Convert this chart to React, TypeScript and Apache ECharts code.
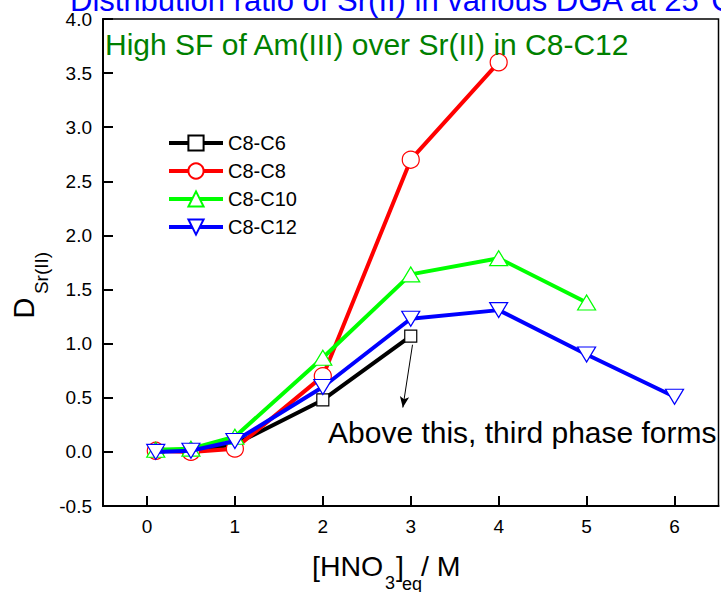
import React, { useEffect, useRef } from "react";
import * as echarts from "echarts";

const FONT = "'Liberation Sans', Arial, Helvetica, sans-serif";

const seriesNames = ["C8-C6", "C8-C8", "C8-C10", "C8-C12"];
const seriesColors = ["#000000", "#ff0000", "#00ff00", "#0000ff"];
const seriesSymbols = ["rect", "circle", "triangle", "triangle"];
const seriesRotate = [0, 0, 0, 180];

const c8c6 = [[0.1, 0.01], [0.5, 0.01], [1, 0.07], [2, 0.48], [3, 1.07]];
const c8c8 = [[0.1, 0.01], [0.5, 0.0], [1, 0.03], [2, 0.7], [3, 2.7], [4, 3.6]];
const c8c10 = [[0.1, 0.02], [0.5, 0.03], [1, 0.14], [2, 0.87], [3, 1.64], [4, 1.79], [5, 1.38]];
const c8c12 = [[0.1, 0.0], [0.5, 0.01], [1, 0.1], [2, 0.6], [3, 1.23], [4, 1.31], [5, 0.9], [6, 0.51]];
const seriesData = [c8c6, c8c8, c8c10, c8c12];

const xTicks = [0, 1, 2, 3, 4, 5, 6];
const arrowFrom = [3.02, 0.99];
const arrowTo = [2.91, 0.41];

const titleText = "Distribution ratio of Sr(II) in various DGA at 25°C";
const noteText = "High SF of Am(III) over Sr(II) in C8-C12";
const annotText = "Above this, third phase forms";

export default function App() {
  const ref = useRef<HTMLDivElement>(null);
  useEffect(() => {
    const chart = echarts.init(ref.current!, null, { renderer: "svg" });
    const series: any[] = seriesNames.map((name, i) => {
      const isTri = seriesSymbols[i] === "triangle";
      const s: any = {
        type: "line",
        name,
        data: seriesData[i],
        symbol: seriesSymbols[i],
        symbolRotate: seriesRotate[i],
        symbolSize: isTri ? [18, 15] : seriesSymbols[i] === "rect" ? 12 : 17,
        showAllSymbol: true,
        color: seriesColors[i],
        itemStyle: { color: "#ffffff", borderColor: seriesColors[i], borderWidth: 1.2 },
        lineStyle: { color: seriesColors[i], width: 4 },
        z: 2 + i,
      };
      if (i === 0) {
        s.markLine = {
          silent: true,
          symbol: ["none", "arrow"],
          symbolSize: [7, 11],
          lineStyle: { color: "#000", width: 1, type: "solid" },
          label: { show: false },
          data: [[{ coord: arrowFrom }, { coord: arrowTo }]],
        };
      }
      return s;
    });

    const txt = (text: string, x: number, y: number, size: number, fill: string, rotation = 0, align = "left") => ({
      type: "text",
      x,
      y,
      rotation,
      z: 100,
      style: { text, fontSize: size, fontFamily: FONT, fill, align, verticalAlign: "middle" },
    });

    chart.setOption({
      animation: false,
      backgroundColor: "#ffffff",
      grid: { left: 103, top: 19, right: 2.5, bottom: 86, show: true, borderColor: "#000", borderWidth: 1.5 },
      xAxis: {
        type: "value",
        min: -0.5,
        max: 6.5,
        axisLine: { show: true, onZero: false, lineStyle: { color: "#000", width: 2 } },
        axisTick: { show: true, inside: true, length: 10, customValues: xTicks, lineStyle: { color: "#000", width: 2 } },
        axisLabel: { customValues: xTicks, fontSize: 19, color: "#000", fontFamily: FONT, margin: 11 },
        splitLine: { show: false },
      },
      yAxis: {
        type: "value",
        min: -0.5,
        max: 4,
        interval: 0.5,
        axisLine: { show: true, onZero: false, lineStyle: { color: "#000", width: 2 } },
        axisTick: { show: true, inside: true, length: 10, lineStyle: { color: "#000", width: 2 } },
        axisLabel: { formatter: (v: number) => v.toFixed(1), fontSize: 19, color: "#000", fontFamily: FONT, margin: 11 },
        splitLine: { show: false },
      },
      legend: {
        orient: "vertical",
        left: 167,
        top: 133,
        itemWidth: 54,
        itemHeight: 19,
        itemGap: 8,
        padding: 0,
        lineStyle: { width: 4 },
        textStyle: { fontSize: 20, color: "#000", fontFamily: FONT },
        data: seriesNames,
      },
      series,
      graphic: [
        txt(titleText, 70, 0, 31, "#0000ff"),
        txt(noteText, 105, 44, 30, "#008000"),
        txt(annotText, 328, 432, 30, "#000000"),
        txt("D", 24, 308, 29, "#000000", Math.PI / 2, "center"),
        txt("Sr(II)", 41, 273, 19, "#000000", Math.PI / 2, "center"),
        txt("[HNO", 312, 566, 28.5, "#000000"),
        txt("3", 385, 583, 18, "#000000"),
        txt("]", 396, 566, 28.5, "#000000"),
        txt("eq", 402, 584, 18, "#000000"),
        txt("/ M", 421, 566, 28.5, "#000000"),
      ],
    });
    return () => chart.dispose();
  }, []);
  return <div ref={ref} style={{ position: "fixed", left: 0, top: 0, width: 721, height: 592 }} />;
}
